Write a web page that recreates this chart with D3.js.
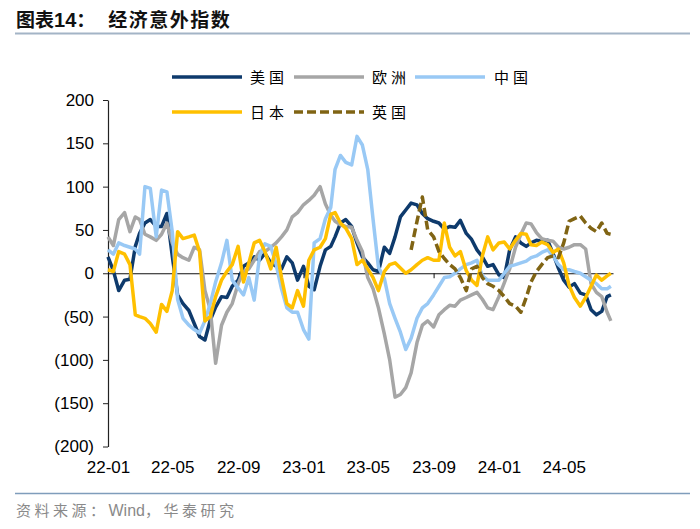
<!DOCTYPE html>
<html>
<head>
<meta charset="utf-8">
<script src="https://cdn.jsdelivr.net/npm/d3@7/dist/d3.min.js"></script>
<style>
  html, body { margin: 0; padding: 0; background: #fff; }
  svg { display: block; }
</style>
</head>
<body>
<svg id="chart" width="700" height="529"></svg>
<script>
// ---------------- DATA ----------------
// Sampling dates: 1st, 11th, 21st of each month (Jan 2022 – Jul 2024) + last obs
const sampleMonths = d3.range(0, 31);          // month offsets from 2022-01
const sampleDays = [1, 11, 21];
const lastDate = new Date(2024, 6, 28);

const seriesNames = ["美国", "欧洲", "中国", "日本", "英国"];

const usa = [19, 3, -20, -8, -7, 31, 46, 58, 62, 54,
  54, 69, 20, -25, -35, -43, -58, -73, -77, -54,
  -39, -27, -28, -15, -8, 8, 12, 19, 15, 23,
  12, 8, 5, 19, 12, -8, 8, -15, -19, 8,
  27, 31, 42, 58, 62, 54, 35, 19, 12, 4,
  2, 30, 23, 42, 65, 73, 81, 79, 69, 63,
  60, 58, 51, 54, 53, 61, 46, 39, 27, 19,
  8, 10, -2, -5, 27, 42, 35, 31, 35, 38,
  37, 38, 23, 6, -8, -16, -12, -23, -25, -42,
  -48, -44, -27, -25];

const europe = [42, 32, 62, 70, 48, 65, 62, 45, 42, 38,
  45, 58, 35, 22, 18, 15, 30, 27, -20, -42,
  -104, -60, -45, -35, -12, 2, 5, 15, 25, 25,
  30, 35, 42, 50, 65, 70, 79, 84, 90, 100,
  80, 67, 60, 56, 54, 53, 38, 25, -5, -18,
  -40, -70, -100, -143, -140, -132, -115, -80, -60, -55,
  -62, -48, -42, -37, -38, -31, -28, -25, -22, -30,
  -40, -42, -27, -11, 5, 30, 45, 58, 57, 47,
  40, 38, 37, 30, 28, 30, 33, 33, 28, -12,
  -22, -27, -45, -55];

const china = [27, 22, 35, 32, 30, 28, 22, 100, 98, 42,
  96, 94, 48, -30, -52, -60, -65, -69, -55, -35,
  -10, 12, 38, -8, -17, -25, -5, -31, 20, 34,
  31, 10, -18, -40, -45, -45, -65, -76, 35, 40,
  63, 76, 120, 136, 128, 125, 158, 148, 120, 62,
  7, -6, -35, -52, -68, -88, -75, -52, -40, -35,
  -25, -15, -5, -4, 0, 5, 10, 12, 15, -3,
  -8, -8, -8, 0, 8, 10, 12, 14, 18, 20,
  24, 27, 20, 10, 4, 4, 2, 0, -4, -8,
  -12, -18, -18, -15];

const japan = [4, 2, 25, 22, 10, -48, -50, -52, -58, -68,
  -36, -44, -20, 48, 40, 42, 44, 25, -55, -50,
  -27, -8, 2, 10, 31, -10, 12, 35, 38, 25,
  5, 30, -5, -35, -40, -20, -38, 15, 27, 30,
  40, 68, 70, 58, 52, 40, 10, 15, 5, -5,
  -20, 2, 10, 12, 6, 0, 4, 10, 15, 18,
  15, 15, 58, 30, 20, 25, 3, -8, -14, 20,
  42, 27, 35, 36, 28, 38, 46, 45, 33, 32,
  36, 33, 24, 28, 12, -14, -28, -38, -28, -15,
  -2, -8, -3, 0];

const uk = Array(56).fill(null).concat([27, 60, 88, 50,
  42, 25, 17, 10, 5, -5, -20, 5, 8, -5,
  -12, -15, -20, -27, -35, -38, -45, -28, -10, 2,
  10, 18, 20, 18, 35, 60, 63, 66, 58, 52,
  48, 58, 46, 45]);

const yTickValues = [200, 150, 100, 50, 0, -50, -100, -150, -200];
const yTickLabels = ["200", "150", "100", "50", "0", "(50)", "(100)", "(150)", "(200)"];
const xTickDates = ["2022-01", "2022-05", "2022-09", "2023-01", "2023-05", "2023-09", "2024-01", "2024-05"];

// ---------------- BUILD ----------------
const dates = [];
sampleMonths.forEach(m => sampleDays.forEach(d => dates.push(new Date(2022, m, d))));
dates.push(lastDate);

const seriesData = [usa, europe, china, japan, uk];
const colors = ["#0e3a6c", "#a6a6a6", "#99c9f5", "#ffc000", "#806414"];
const dashes = [null, null, null, null, "9,4"];

const svg = d3.select("#chart");
svg.append("rect").attr("width", 700).attr("height", 529).attr("fill", "#fff");

const x = d3.scaleTime()
  .domain([new Date(2022, 0, 1), new Date(2024, 7, 1)])
  .range([108, 613]);
const y = d3.scaleLinear().domain([-200, 200]).range([446.5, 100]);

// Title
const title = svg.append("text")
  .attr("x", 16).attr("y", 27)
  .attr("font-family", "'Noto Sans CJK SC', sans-serif")
  .attr("font-weight", "bold").attr("font-size", 19)
  .attr("fill", "#111");
title.append("tspan").text("图表");
title.append("tspan").attr("font-family", "'Liberation Sans', Arial, sans-serif").attr("font-size", 20).text("14");
title.append("tspan").text("：");
title.append("tspan").attr("dx", 13).attr("letter-spacing", 1.5).text("经济意外指数");

svg.append("line").attr("x1", 15).attr("x2", 690).attr("y1", 33.5).attr("y2", 33.5)
  .attr("stroke", "#a3b4c6").attr("stroke-width", 2);

// Y axis
const yAxis = d3.axisLeft(y).tickValues(yTickValues)
  .tickFormat((d, i) => yTickLabels[i]).tickSize(5).tickSizeOuter(0);
const gy = svg.append("g").attr("transform", "translate(108,0)").call(yAxis);
gy.select(".domain").attr("stroke", "#222").attr("stroke-width", 1.2);
gy.selectAll(".tick line").attr("stroke", "#222");
gy.selectAll(".tick text")
  .attr("font-family", "'Liberation Sans', Arial, sans-serif")
  .attr("font-size", 17).attr("fill", "#000").attr("x", -14);

// Zero line + x axis labels
const xAxis = d3.axisBottom(x)
  .tickValues(xTickDates.map(s => d3.timeParse("%Y-%m")(s)))
  .tickFormat(d3.timeFormat("%y-%m")).tickSize(5).tickSizeOuter(0);
const gx = svg.append("g").attr("transform", `translate(0,${y(0)})`).call(xAxis);
gx.select(".domain").attr("stroke", "#111").attr("stroke-width", 1.2);
gx.selectAll(".tick line").attr("stroke", "#111");
gx.selectAll(".tick text").attr("y", y(-200) - y(0) + 14)
  .attr("font-family", "'Liberation Sans', Arial, sans-serif")
  .attr("font-size", 17).attr("fill", "#000");

// Lines
const line = d3.line()
  .defined(d => d[1] !== null)
  .x(d => x(d[0])).y(d => y(d[1]));

seriesData.forEach((vals, i) => {
  const pts = dates.map((d, j) => [d, vals[j]]);
  svg.append("path").datum(pts)
    .attr("d", line)
    .attr("fill", "none")
    .attr("stroke", colors[i])
    .attr("stroke-width", 3.5)
    .attr("stroke-linejoin", "round")
    .attr("stroke-dasharray", dashes[i]);
});

// Legend
const legendPos = [
  {lx: 172, tx: 250, ly: 77},
  {lx: 294, tx: 372, ly: 77},
  {lx: 415, tx: 494, ly: 77},
  {lx: 172, tx: 250, ly: 112},
  {lx: 294, tx: 372, ly: 112}
];
seriesNames.forEach((name, i) => {
  const p = legendPos[i];
  svg.append("line").attr("x1", p.lx).attr("x2", p.lx + 70)
    .attr("y1", p.ly).attr("y2", p.ly)
    .attr("stroke", colors[i]).attr("stroke-width", 3.5)
    .attr("stroke-dasharray", dashes[i]);
  svg.append("text").attr("x", p.tx).attr("y", p.ly + 5.5)
    .attr("font-family", "'Noto Sans CJK SC', sans-serif")
    .attr("font-size", 15).attr("letter-spacing", 4)
    .attr("fill", "#000").text(name);
});

// Footer
svg.append("line").attr("x1", 15).attr("x2", 690).attr("y1", 493.5).attr("y2", 493.5)
  .attr("stroke", "#7f9dbb").attr("stroke-width", 1.5);
const src = svg.append("text").attr("x", 16).attr("y", 516)
  .attr("font-family", "'Noto Sans CJK SC', sans-serif")
  .attr("font-size", 15).attr("fill", "#8a8a8a");
src.append("tspan").attr("letter-spacing", 3.5).text("资料来源：");
src.append("tspan").attr("font-family", "'Liberation Sans', Arial, sans-serif").attr("font-size", 16).text("Wind");
src.append("tspan").attr("letter-spacing", 3.5).text("，华泰研究");
</script>
</body>
</html>
